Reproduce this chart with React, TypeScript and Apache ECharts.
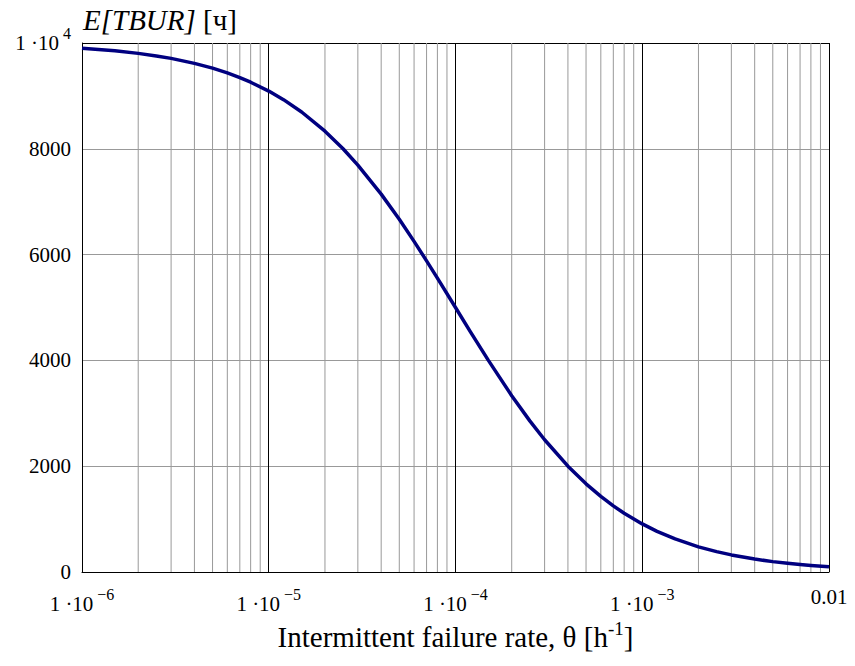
import React, { useEffect, useRef } from "react";
import * as echarts from "echarts";

const thetaValues = [
  1e-6, 1.5e-6, 2e-6, 2.5e-6, 3e-6, 4e-6, 5e-6, 6e-6, 7e-6, 8e-6,
  1e-5, 1.2e-5, 1.5e-5, 2e-5, 2.5e-5, 3e-5, 4e-5, 5e-5, 6e-5, 7e-5, 8e-5,
  1e-4, 1.2e-4, 1.5e-4, 2e-4, 2.5e-4, 3e-4, 4e-4, 5e-4, 6e-4, 7e-4, 8e-4,
  1e-3, 1.2e-3, 1.5e-3, 2e-3, 2.5e-3, 3e-3, 4e-3, 5e-3, 6e-3, 7e-3, 8e-3,
  1e-2,
];
const tburValues = [
  9901, 9852, 9804, 9756, 9709, 9615, 9524, 9434, 9346, 9259,
  9091, 8929, 8696, 8333, 8000, 7692, 7143, 6667, 6250, 5882, 5556,
  5000, 4545, 4000, 3333, 2857, 2500, 2000, 1667, 1429, 1250, 1111,
  909, 769, 625, 476, 385, 323, 244, 196, 164, 141, 123,
  99,
];
const minorGridX = [
  2e-6, 3e-6, 4e-6, 5e-6, 6e-6, 7e-6, 8e-6, 9e-6,
  2e-5, 3e-5, 4e-5, 5e-5, 6e-5, 7e-5, 8e-5, 9e-5,
  2e-4, 3e-4, 4e-4, 5e-4, 6e-4, 7e-4, 8e-4, 9e-4,
  2e-3, 3e-3, 4e-3, 5e-3, 6e-3, 7e-3, 8e-3, 9e-3,
];
const xTickLabels: Record<string, string> = {
  "-6": "{a|1 ·10}{s|−6}",
  "-5": "{a|1 ·10}{s|−5}",
  "-4": "{a|1 ·10}{s|−4}",
  "-3": "{a|1 ·10}{s|−3}",
  "-2": "{a|0.01}",
};
const yTickLabels: Record<string, string> = {
  "0": "{a|0}",
  "2000": "{a|2000}",
  "4000": "{a|4000}",
  "6000": "{a|6000}",
  "8000": "{a|8000}",
  "10000": "{a|1 ·10}{s|4}",
};

const FONT = "'Liberation Serif', serif";

export default function App() {
  const ref = useRef<HTMLDivElement>(null);
  useEffect(() => {
    if (!ref.current) return;
    const chart = echarts.init(ref.current, undefined, { renderer: "svg" });
    const rich = {
      a: { fontFamily: FONT, fontSize: 21, color: "#000", fontWeight: "normal" },
      s: { fontFamily: FONT, fontSize: 16, color: "#000", fontWeight: "normal", padding: [0, 0, 20, 4] },
    };
    chart.setOption({
      animation: false,
      backgroundColor: "#fff",
      textStyle: { fontFamily: FONT, fontSize: 21, color: "#000" },
      title: {
        left: 78,
        top: 0,
        text: "{i|E[TBUR]}{r| [ч]}",
        textStyle: {
          fontWeight: "normal",
          fontFamily: FONT,
          rich: {
            i: { fontFamily: FONT, fontSize: 29, fontStyle: "italic", fontWeight: "normal", color: "#000" },
            r: { fontFamily: FONT, fontSize: 29, fontWeight: "normal", color: "#000" },
          },
        },
      },
      grid: {
        left: 82,
        right: 26,
        top: 43,
        bottom: 94,
        containLabel: false,
        outerBoundsMode: "none",
      },
      xAxis: {
        type: "log",
        logBase: 10,
        min: 1e-6,
        max: 1e-2,
        name: "Intermittent failure rate, θ [h{s|-1}]",
        nameLocation: "middle",
        nameGap: 43,
        nameTextStyle: {
          fontFamily: FONT,
          fontSize: 29,
          color: "#000",
          rich: {
            s: { fontFamily: FONT, fontSize: 19, color: "#000", padding: [0, 0, 16, 0] },
          },
        },
        axisLine: { show: true, lineStyle: { color: "#000", width: 1 } },
        axisTick: { show: false },
        axisLabel: {
          margin: 14,
          fontFamily: FONT,
          fontSize: 21,
          color: "#000",
          formatter: (v: number) => xTickLabels[String(Math.round(Math.log10(v)))] ?? "",
          rich,
        },
        splitLine: { show: true, lineStyle: { color: "#000", width: 1 } },
      },
      yAxis: {
        type: "value",
        min: 0,
        max: 10000,
        interval: 2000,
        axisLine: { show: true, lineStyle: { color: "#000", width: 1 } },
        axisTick: { show: false },
        axisLabel: {
          margin: 11,
          fontFamily: FONT,
          fontSize: 21,
          color: "#000",
          formatter: (v: number) => yTickLabels[String(v)] ?? "",
          rich,
        },
        splitLine: {
          show: true,
          lineStyle: { color: ["#000", "#999", "#999", "#999", "#999", "#000"], width: 1 },
        },
      },
      series: [
        {
          type: "custom",
          z: 1,
          silent: true,
          coordinateSystem: "cartesian2d",
          data: minorGridX.map((v) => [v, 0]),
          renderItem: (params: any, api: any) => {
            const x = api.value(0);
            const p0 = api.coord([x, 0]);
            const p1 = api.coord([x, 10000]);
            return {
              type: "line",
              shape: { x1: p0[0], y1: p0[1], x2: p1[0], y2: p1[1] },
              style: { stroke: "#999", lineWidth: 1 },
            };
          },
        },
        {
          type: "line",
          z: 3,
          symbol: "none",
          smooth: false,
          lineStyle: { color: "#000080", width: 3.5, join: "round" },
          data: thetaValues.map((t, i) => [t, tburValues[i]]),
        },
      ],
    });
    return () => chart.dispose();
  }, []);
  return (
    <div
      ref={ref}
      style={{ position: "fixed", left: 0, top: 0, width: 855, height: 666 }}
    />
  );
}
